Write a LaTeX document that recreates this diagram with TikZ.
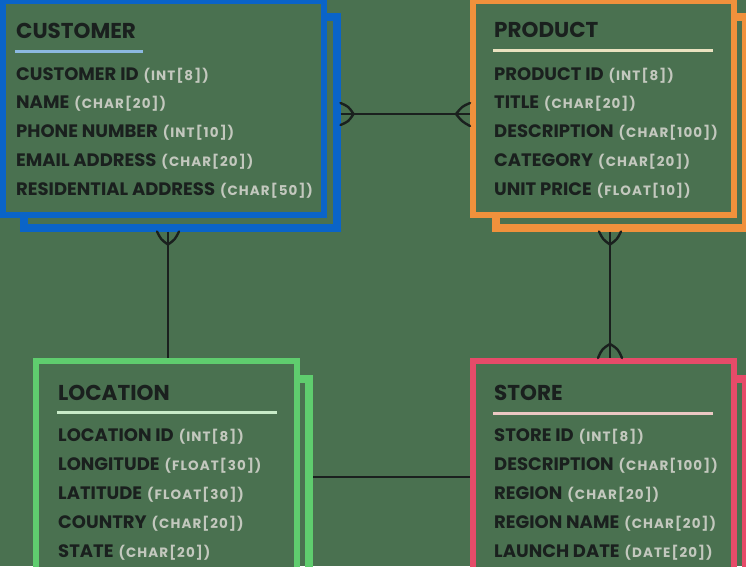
\documentclass[tikz,border=0pt]{standalone}
\usepackage{fontspec}
\setmainfont{Poppins}
\newfontfamily\typefont{Poppins}[LetterSpace=8]
\usetikzlibrary{calc}
\definecolor{bg}{HTML}{4A7150}
\definecolor{cblue}{HTML}{0A64C8}
\definecolor{corange}{HTML}{F0913C}
\definecolor{cgreen}{HTML}{5FCD6E}
\definecolor{cpink}{HTML}{E64B69}
\definecolor{ink}{HTML}{1A201E}
\definecolor{typec}{HTML}{C3C8BE}
\definecolor{ulblue}{HTML}{8CB9E1}
\definecolor{ulcream}{HTML}{EAE2C0}
\definecolor{ulgreen}{HTML}{C8EBC8}
\definecolor{ulpink}{HTML}{EBC8C3}
\tikzset{
  shadowbox/.style={draw=#1, line width=8pt, rectangle, inner sep=0pt, outer sep=4pt},
  frontbox/.style={draw=#1, line width=6pt, fill=bg, rectangle, inner sep=0pt, outer sep=3pt},
  title/.style={anchor=base west, inner sep=0pt, text=ink, font=\fontsize{21.5}{24}\selectfont\bfseries},
  row/.style={anchor=base west, inner sep=0pt, text=ink, font=\fontsize{18}{20}\selectfont\bfseries},
  uline/.style={draw=#1, line width=3pt},
  rel/.style={draw=ink, line width=2.4pt},
  foot/.style={draw=ink, line width=2.4pt, line cap=round}
}
\newcommand\fld[4]{\node[row] (#1) at (#2) {#3\hspace{5pt}{\typefont\bfseries\fontsize{13.5}{16}\selectfont\color{typec}#4}};}
\begin{document}
\begin{tikzpicture}[x=1pt,y=-1pt]
\useasboundingbox (0,0) rectangle (746,566);
\clip (0,0) rectangle (746,566);
\fill[bg] (0,0) rectangle (746,566);
% shadows
\node[shadowbox=cblue, minimum width=312.5pt, minimum height=210.5pt] (cs) at (180.25,122.25) {};
\node[shadowbox=corange, minimum width=250pt, minimum height=210.5pt] (ps) at (621,122.25) {};
\node[shadowbox=cgreen, minimum width=252pt, minimum height=261pt] (ls) at (183,509.5) {};
\node[shadowbox=cpink, minimum width=250pt, minimum height=261pt] (ss) at (621,509.5) {};
% fronts
\node[frontbox=cblue, minimum width=321pt, minimum height=214.5pt] (cf) at (163,107.75) {};
\node[frontbox=corange, minimum width=261pt, minimum height=214pt] (pf) at (603.5,107.5) {};
\node[frontbox=cgreen, minimum width=261pt, minimum height=259pt] (lf) at (166.5,490.5) {};
\node[frontbox=cpink, minimum width=261pt, minimum height=259pt] (sf) at (603.5,490.5) {};
% customer
\node[title] (ct) at (16,38) {CUSTOMER};
\draw[uline=ulblue] (15,51) -- (143,51);
\fld{c1}{16,80}{CUSTOMER ID}{(INT[8])}
\fld{c2}{16,108}{NAME}{(CHAR[20])}
\fld{c3}{16,137}{PHONE NUMBER}{(INT[10])}
\fld{c4}{16,166}{EMAIL ADDRESS}{(CHAR[20])}
\fld{c5}{16,195}{RESIDENTIAL ADDRESS}{(CHAR[50])}
% product
\node[title] (pt) at (494,37) {PRODUCT};
\draw[uline=ulcream] (493,50) -- (713,50);
\fld{p1}{494,80}{PRODUCT ID}{(INT[8])}
\fld{p2}{494,108}{TITLE}{(CHAR[20])}
\fld{p3}{494,137}{DESCRIPTION}{(CHAR[100])}
\fld{p4}{494,166}{CATEGORY}{(CHAR[20])}
\fld{p5}{494,195}{UNIT PRICE}{(FLOAT[10])}
% location
\node[title] (lt) at (58,400) {LOCATION};
\draw[uline=ulgreen] (57,412) -- (277,412);
\fld{l1}{58,441}{LOCATION ID}{(INT[8])}
\fld{l2}{58,470}{LONGITUDE}{(FLOAT[30])}
\fld{l3}{58,499}{LATITUDE}{(FLOAT[30])}
\fld{l4}{58,528}{COUNTRY}{(CHAR[20])}
\fld{l5}{58,557}{STATE}{(CHAR[20])}
% store
\node[title] (st) at (494,400) {STORE};
\draw[uline=ulpink] (493,413) -- (713,413);
\fld{s1}{494,441}{STORE ID}{(INT[8])}
\fld{s2}{494,470}{DESCRIPTION}{(CHAR[100])}
\fld{s3}{494,499}{REGION}{(CHAR[20])}
\fld{s4}{494,528}{REGION NAME}{(CHAR[20])}
\fld{s5}{494,557}{LAUNCH DATE}{(DATE[20])}
% connectors
\coordinate (cpY) at (0,114);
\coordinate (clX) at (168,0);
\coordinate (psX) at (610,0);
\coordinate (lsY) at (0,477);
\coordinate (a1) at (cs.east |- cpY);
\coordinate (a2) at (pf.west |- cpY);
\draw[rel] (a1) -- (a2);
\draw[foot] ($(a1)+(0,-11)$) .. controls ($(a1)+(8,-7.5)$) .. ($(a1)+(13,0)$) .. controls ($(a1)+(8,7.5)$) .. ($(a1)+(0,11)$);
\draw[foot] ($(a2)+(0,-11)$) .. controls ($(a2)+(-8,-7.5)$) .. ($(a2)+(-14,0)$) .. controls ($(a2)+(-8,7.5)$) .. ($(a2)+(0,12)$);
\coordinate (b1) at (cs.south -| clX);
\coordinate (b2) at (lf.north -| clX);
\draw[rel] (b1) -- (b2);
\draw[foot] ($(b1)+(-11,0)$) .. controls ($(b1)+(-7,8)$) .. ($(b1)+(0,13)$) .. controls ($(b1)+(7,8)$) .. ($(b1)+(11,0)$);
\coordinate (c1) at (ps.south -| psX);
\coordinate (c2) at (sf.north -| psX);
\draw[rel] (c1) -- (c2);
\draw[foot] ($(c1)+(-11,0)$) .. controls ($(c1)+(-7,8)$) .. ($(c1)+(0,13)$) .. controls ($(c1)+(7,8)$) .. ($(c1)+(11,0)$);
\draw[foot] ($(c2)+(-12,0)$) .. controls ($(c2)+(-8,-9)$) .. ($(c2)+(0,-14)$) .. controls ($(c2)+(8,-9)$) .. ($(c2)+(12,0)$);
\coordinate (d1) at (ls.east |- lsY);
\coordinate (d2) at (sf.west |- lsY);
\draw[rel] (d1) -- (d2);
\end{tikzpicture}
\end{document}
